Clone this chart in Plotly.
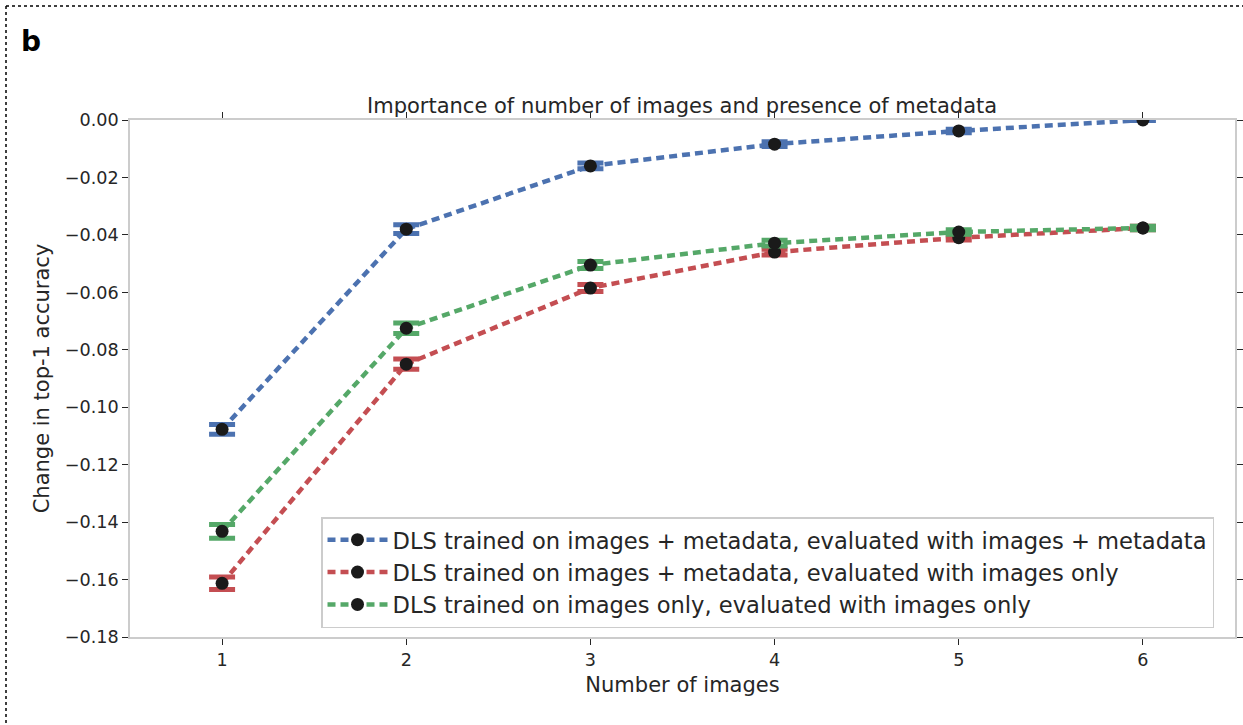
import plotly.graph_objects as go

n_images = [1, 2, 3, 4, 5, 6]
blue_vals = [-0.1077, -0.0380, -0.0160, -0.0084, -0.0038, 0.0]
red_vals = [-0.1613, -0.0850, -0.0585, -0.0460, -0.0410, -0.0376]
green_vals = [-0.1432, -0.0725, -0.0505, -0.0429, -0.0390, -0.0376]
blue_err = [0.0017, 0.0015, 0.0010, 0.0008, 0.0006, 0.0002]
red_err = [0.0022, 0.0018, 0.0012, 0.0010, 0.0008, 0.0006]
green_err = [0.0024, 0.0018, 0.0012, 0.0010, 0.0008, 0.0006]
series_names = [
    "DLS trained on images + metadata, evaluated with images + metadata",
    "DLS trained on images + metadata, evaluated with images only",
    "DLS trained on images only, evaluated with images only",
]
colors = ["#4C72B0", "#C44E52", "#55A868"]
y_ticks = [0.0, -0.02, -0.04, -0.06, -0.08, -0.10, -0.12, -0.14, -0.16, -0.18]

FONT = "DejaVu Sans"
fig = go.Figure()
for vals, errs, name, col in zip([blue_vals, red_vals, green_vals],
                                 [blue_err, red_err, green_err], series_names, colors):
    fig.add_trace(go.Scatter(
        x=n_images, y=vals, name=name, mode="lines+markers",
        line=dict(color=col, width=4.5, dash="8px,5px"),
        marker=dict(color="#1a1a1a", size=13),
        error_y=dict(type="data", array=errs, visible=True, color=col,
                     thickness=5, width=13),
    ))

W, H = 1243, 725
L, R, T, B = 130, 1243 - 1235, 120, 725 - 637
pw, ph = W - L - R, H - T - B

def px_x(p):
    return (p - L) / pw

def px_y(p):
    return (H - B - p) / ph

fig.update_layout(
    width=W, height=H,
    margin=dict(l=L, r=R, t=T, b=B, autoexpand=False),
    paper_bgcolor="white", plot_bgcolor="white",
    font=dict(family=FONT, size=17.6, color="#262626"),
    showlegend=True,
    legend=dict(x=px_x(321), y=px_y(517), xanchor="left", yanchor="top",
                bgcolor="white", bordercolor="#cccccc", borderwidth=1.5,
                font=dict(size=22.6, color="#262626"), itemwidth=60,
                traceorder="normal"),
    xaxis=dict(range=[0.5, 6.5], tickvals=n_images, showgrid=False, zeroline=False,
               showline=True, linecolor="#cccccc", linewidth=1.5, mirror="ticks",
               ticks="outside", ticklen=6, tickcolor="#262626", tickwidth=1,
               tickfont=dict(size=17.6), automargin=False,
               title=dict(text="Number of images", font=dict(size=21), standoff=8)),
    yaxis=dict(range=[-0.18, 0.0], tickvals=y_ticks, tickformat=".2f", showgrid=False,
               zeroline=False, showline=True, linecolor="#cccccc", linewidth=1.5,
               mirror="ticks", ticks="outside", ticklen=6, tickcolor="#262626",
               tickwidth=1, tickfont=dict(size=17.6), automargin=False,
               title=dict(text="Change in top-1 accuracy", font=dict(size=21), standoff=9)),
)

fig.add_annotation(text="Importance of number of images and presence of metadata",
                   xref="paper", yref="paper", x=px_x(682), y=px_y(106),
                   xanchor="center", yanchor="middle", showarrow=False,
                   font=dict(size=21, color="#262626"))
fig.add_annotation(text="<b>b</b>", xref="paper", yref="paper", x=px_x(19), y=px_y(42),
                   xanchor="left", yanchor="middle", showarrow=False,
                   font=dict(size=28, color="black"))
# dotted frame
fig.add_shape(type="line", xref="paper", yref="paper", x0=px_x(6), x1=px_x(1243),
              y0=px_y(6), y1=px_y(6), line=dict(color="black", width=1.5, dash="dot"))
fig.add_shape(type="line", xref="paper", yref="paper", x0=px_x(6), x1=px_x(6),
              y0=px_y(6), y1=px_y(725), line=dict(color="black", width=1.5, dash="dot"))

fig.write_html("out.html", config={"displayModeBar": False},
               post_script="document.body.style.margin='0';document.body.style.overflow='hidden';")
